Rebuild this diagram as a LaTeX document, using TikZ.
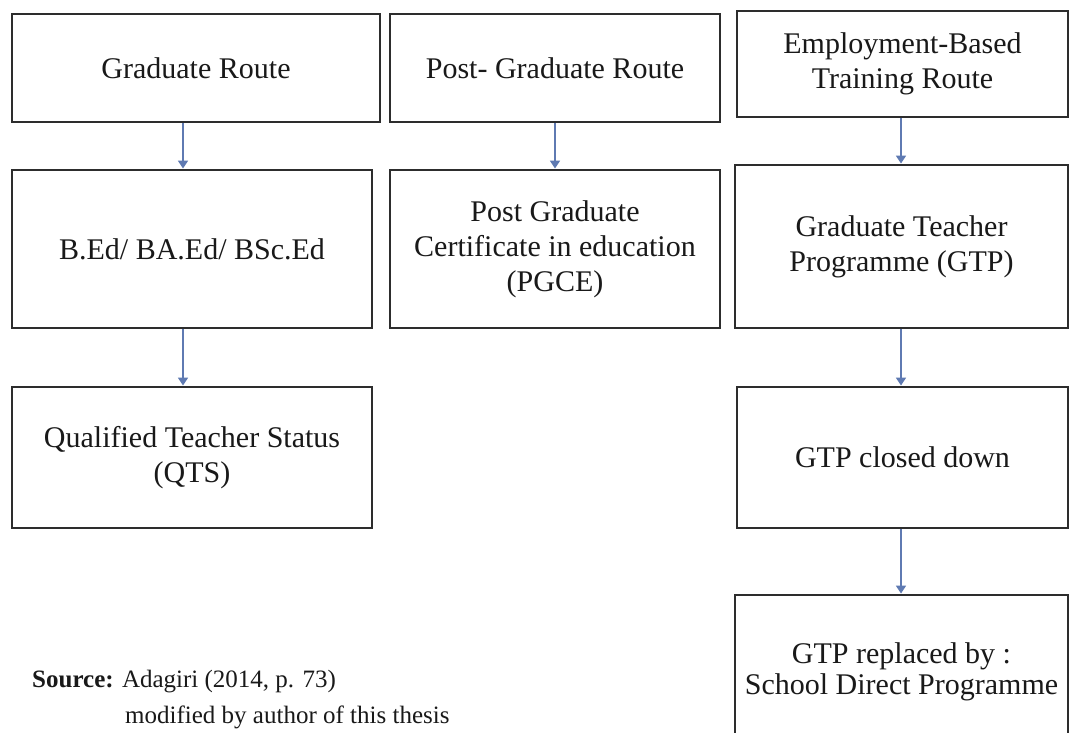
\documentclass[tikz,border=0pt]{standalone}
\usepackage{fontspec}
\setmainfont{Liberation Serif}
\usetikzlibrary{arrows.meta}
\definecolor{boxline}{RGB}{45,45,45}
\definecolor{arrowblue}{RGB}{95,122,178}
\definecolor{txt}{RGB}{25,25,25}
\begin{document}
\begin{tikzpicture}[x=1pt,y=-1pt,
  box/.style={draw=boxline,line width=2.9pt,inner sep=0pt,align=center,text=txt,
    font=\fontsize{30}{35}\selectfont},
  arr/.style={draw=arrowblue,line width=1.7pt,-{Triangle[length=8pt,width=10pt]}},
  src/.style={anchor=base west,inner sep=0pt,text=txt,font=\fontsize{25}{29}\selectfont}]
\useasboundingbox (0,0) rectangle (1079,732);
\clip (0,0) rectangle (1079,732);
\fill[white] (0,0) rectangle (1079,732);
% column 1
\node[box,minimum width=368pt,minimum height=108pt] (g1) at (196,68) {Graduate Route};
\node[box,minimum width=360pt,minimum height=158pt] (g2) at (192,249) {B.Ed/ BA.Ed/ BSc.Ed};
\node[box,minimum width=360pt,minimum height=141pt] (g3) at (192,457.5) {Qualified Teacher Status\\(QTS)};
% column 2
\node[box,minimum width=330pt,minimum height=108pt] (p1) at (555,68) {Post- Graduate Route};
\node[box,minimum width=330pt,minimum height=158pt] (p2) at (555,249) {Post Graduate\\Certificate in education\\(PGCE)};
% column 3
\node[box,minimum width=331pt,minimum height=106pt] (e1) at (902.5,64) {Employment-Based\\Training Route};
\node[box,minimum width=333pt,minimum height=163pt] (e2) at (901.5,246.5) {Graduate Teacher\\Programme (GTP)};
\node[box,minimum width=331pt,minimum height=141pt] (e3) at (902.5,457.5) {GTP closed down};
\node[box,minimum width=333pt,minimum height=170pt,text height=0pt] (e4) at (901.5,680) {};
\node[align=center,text=txt,font=\fontsize{30}{31}\selectfont,inner sep=0pt] (e4t) at (901.5,672) {GTP replaced by :\\School Direct Programme};
% arrows
\coordinate (ga) at (183,0);
\draw[arr] (g1.south -| ga) -- (g2.north -| ga);
\draw[arr] (g2.south -| ga) -- (g3.north -| ga);
\draw[arr] (p1.south) -- (p2.north);
\coordinate (ea) at (901,0);
\draw[arr] (e1.south -| ea) -- (e2.north -| ea);
\draw[arr] (e2.south -| ea) -- (e3.north -| ea);
\draw[arr] (e3.south -| ea) -- (e4.north -| ea);
% source
\node[src] (s1) at (32,687) {\textbf{Source:} Adagiri (2014, p. 73)};
\node[src] (s2) at (125,723) {modified by author of this thesis};
\end{tikzpicture}
\end{document}
